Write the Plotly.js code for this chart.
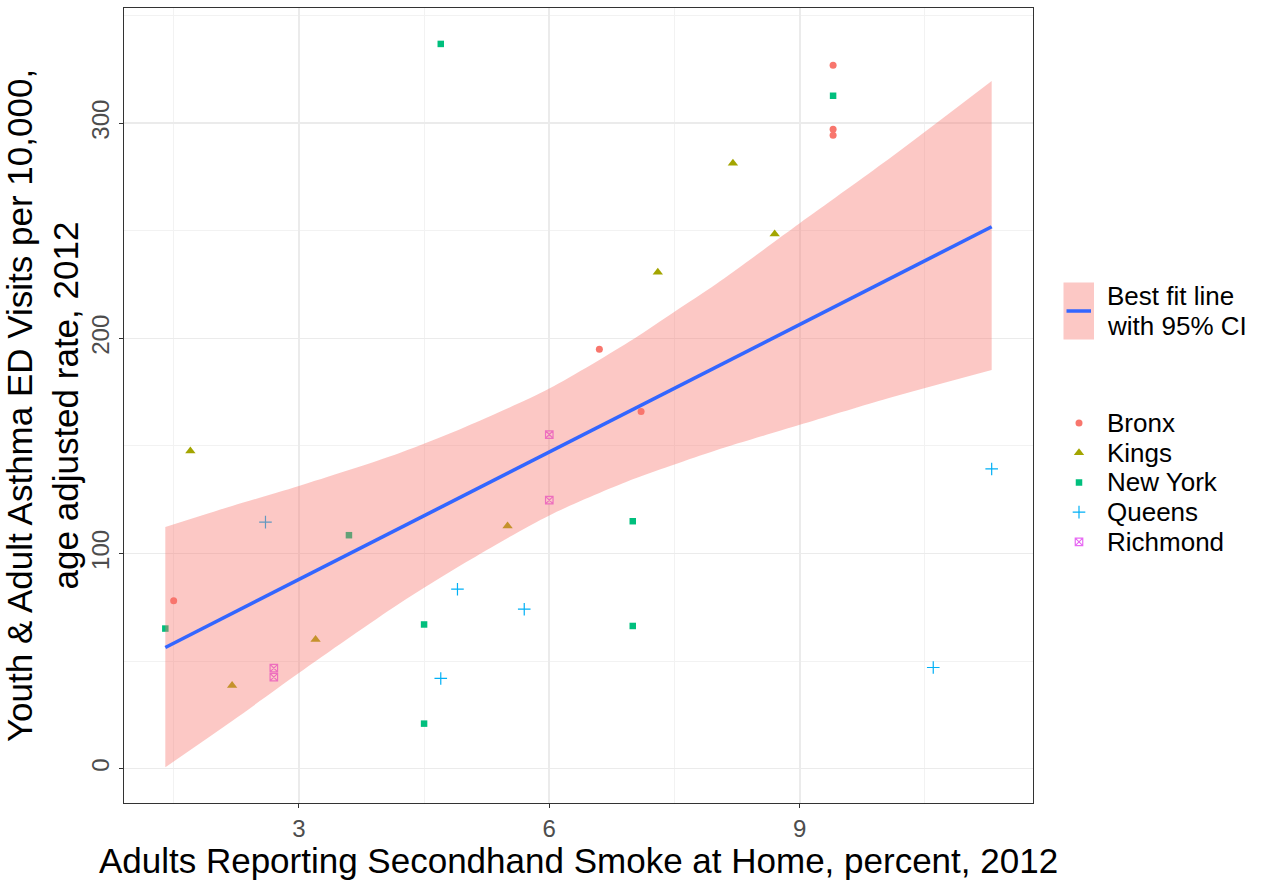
<!DOCTYPE html>
<html>
<head>
<meta charset="utf-8">
<script src="https://cdn.plot.ly/plotly-3.0.1.min.js"></script>
<style>
  html, body { margin: 0; padding: 0; background: #ffffff; }
  #chart { width: 1265px; height: 880px; }
</style>
</head>
<body>
<div id="chart"></div>
<script>
// ---------------- data ----------------
const boroughs = ["Bronx", "Kings", "New York", "Queens", "Richmond"];

const bronxX    = [1.5, 6.6, 7.1, 9.4, 9.4, 9.4];
const bronxY    = [78.0, 195.0, 166.0, 327.0, 297.2, 294.4];
const kingsX    = [1.7, 2.2, 3.2, 5.5, 7.3, 8.2, 8.7];
const kingsY    = [147.7, 38.6, 60.0, 112.8, 230.7, 281.4, 248.5];
const newYorkX  = [1.4, 3.6, 4.5, 4.5, 4.7, 7.0, 7.0, 9.4];
const newYorkY  = [65.1, 108.5, 67.0, 20.9, 336.9, 115.0, 66.3, 312.8];
const queensX   = [2.6, 4.7, 4.9, 5.7, 10.6, 11.3];
const queensY   = [114.6, 41.9, 83.4, 74.1, 47.0, 139.3];
const richmondX = [2.7, 2.7, 6.0, 6.0];
const richmondY = [46.7, 42.5, 155.3, 124.8];

// best fit line and its 95% confidence band
const fitX    = [1.4, 11.3];
const fitY    = [56.3, 251.9];
const ciX     = [1.4, 2.2, 3.0, 4.2, 5.0, 6.0, 7.0, 7.5, 8.0, 9.0, 10.0, 11.3];
const ciUpper = [112.3, 122.1, 131.4, 146.6, 158.9, 176.7, 199.5, 212.4, 225.3, 253.5, 281.5, 319.7];
const ciLower = [0.6, 22.1, 44.4, 76.6, 95.9, 117.7, 134.5, 141.4, 148.0, 159.8, 171.5, 185.3];

const fitLabelLines = ["Best fit line", "with 95% CI"];
const xTitle = "Adults Reporting Secondhand Smoke at Home, percent, 2012";
const yTitle = "Youth & Adult Asthma ED Visits per 10,000,<br>age adjusted rate, 2012";

// ---------------- styles ----------------
const xs = [bronxX, kingsX, newYorkX, queensX, richmondX];
const ys = [bronxY, kingsY, newYorkY, queensY, richmondY];
const colors  = ["#F8766D", "#A3A500", "#00BF7D", "#00B0F6", "#E76BF3"];
const symbols = ["circle", "triangle-up", "square", "cross-thin-open", "square-x-open"];
const sizes   = [7, 9, 6.5, 9, 7.5];
const FONT = "Liberation Sans, Arial, Helvetica, sans-serif";
const RIBBON = "rgba(248,118,109,0.4)";
const FITBLUE = "#3366FF";

const W = 1265, H = 880;
const M = {l: 124, r: 0, t: 8, b: 77};
const plotW = W - M.l - M.r;
const panelRight = 1033;                      // right edge of the panel, px
const mainDomEnd = (panelRight - M.l) / plotW;
const keyDomStart = 0.8;
const keyX0 = M.l + keyDomStart * plotW;      // pixel at start of key area

const traces = [];

// points first (ribbon is drawn over them, as in the reference)
for (let i = 0; i < boroughs.length; i++) {
  traces.push({
    type: "scatter", mode: "markers",
    x: xs[i], y: ys[i], name: boroughs[i],
    xaxis: "x", yaxis: "y",
    marker: {
      symbol: symbols[i], color: colors[i], size: sizes[i],
      line: {color: colors[i], width: (i >= 3 ? 1.2 : 0)}
    },
    showlegend: false, hoverinfo: "x+y+name"
  });
}

// confidence ribbon: lower edge, then upper edge filled down to it
traces.push({
  type: "scatter", mode: "lines",
  x: ciX, y: ciLower,
  line: {width: 0, shape: "spline", smoothing: 0.8, color: RIBBON},
  showlegend: false, hoverinfo: "skip", xaxis: "x", yaxis: "y"
});
traces.push({
  type: "scatter", mode: "lines",
  x: ciX, y: ciUpper,
  fill: "tonexty", fillcolor: RIBBON,
  line: {width: 0, shape: "spline", smoothing: 0.8, color: RIBBON},
  showlegend: false, hoverinfo: "skip", xaxis: "x", yaxis: "y"
});

// best fit line
traces.push({
  type: "scatter", mode: "lines",
  x: fitX, y: fitY,
  line: {color: FITBLUE, width: 3.6},
  showlegend: false, hoverinfo: "skip",
  xaxis: "x", yaxis: "y"
});

// ---------------- manual legend (key area in pixel units) ----------------
const keyMarkerX = 1079;
const keyTextX = 1105;
const keyTop = 423;
const keyStep = 29.7;
const annotations = [];
for (let i = 0; i < boroughs.length; i++) {
  const yy = keyTop + i * keyStep;
  traces.push({
    type: "scatter", mode: "markers",
    x: [keyMarkerX], y: [yy], xaxis: "x2", yaxis: "y2",
    marker: {
      symbol: symbols[i], color: colors[i], size: sizes[i],
      line: {color: colors[i], width: (i >= 3 ? 1.2 : 0)}
    },
    showlegend: false, hoverinfo: "skip"
  });
  annotations.push({
    xref: "x2", yref: "y2", x: keyTextX, y: yy,
    xanchor: "left", yanchor: "middle", showarrow: false,
    text: boroughs[i], font: {family: FONT, size: 26, color: "#000000"}
  });
}
const fitKeyLineY = [295.5, 325.5];
fitLabelLines.forEach(function (t, k) {
  annotations.push({
    xref: "x2", yref: "y2", x: keyTextX, y: fitKeyLineY[k],
    xanchor: "left", yanchor: "middle", showarrow: false,
    text: t, font: {family: FONT, size: 26, color: "#000000"}
  });
});

const shapes = [
  {type: "rect", xref: "x2", yref: "y2", x0: 1063.5, x1: 1094, y0: 282.5, y1: 339.5,
   fillcolor: RIBBON, line: {width: 0}, layer: "above"},
  {type: "line", xref: "x2", yref: "y2", x0: 1066.5, x1: 1091, y0: 311, y1: 311,
   line: {color: FITBLUE, width: 3.6}, layer: "above"}
];

const axisCommon = {
  showline: true, mirror: true, linecolor: "#333333", linewidth: 1.2,
  ticks: "outside", ticklen: 4, tickwidth: 1.2, tickcolor: "#333333",
  tickfont: {family: FONT, size: 24, color: "#4D4D4D"},
  showgrid: true, gridcolor: "#EBEBEB", gridwidth: 1.6,
  zeroline: false, fixedrange: true
};

const layout = {
  width: W, height: H,
  margin: M,
  paper_bgcolor: "#ffffff", plot_bgcolor: "#ffffff",
  font: {family: FONT},
  showlegend: false,
  xaxis: Object.assign({}, axisCommon, {
    domain: [0, mainDomEnd], anchor: "y",
    range: [0.905, 11.795], tick0: 0, dtick: 3,
    minor: {showgrid: true, gridcolor: "#F2F2F2", gridwidth: 1, tick0: 0, dtick: 1.5},
    title: {text: xTitle, font: {family: FONT, size: 35, color: "#000000"}, standoff: 2}
  }),
  yaxis: Object.assign({}, axisCommon, {
    domain: [0, 1], anchor: "x",
    range: [-16.0, 353.6], tick0: 0, dtick: 100, tickangle: -90,
    minor: {showgrid: true, gridcolor: "#F2F2F2", gridwidth: 1, tick0: 0, dtick: 50},
    title: {text: yTitle, font: {family: FONT, size: 35, color: "#000000"}, standoff: 2}
  }),
  xaxis2: {domain: [keyDomStart, 1], range: [keyX0, W], visible: false, fixedrange: true, anchor: "y2"},
  yaxis2: {domain: [0, 1], range: [H - M.b, M.t], visible: false, fixedrange: true, anchor: "x2"},
  shapes: shapes,
  annotations: annotations
};

Plotly.newPlot("chart", traces, layout, {displayModeBar: false, staticPlot: true});
</script>
</body>
</html>
